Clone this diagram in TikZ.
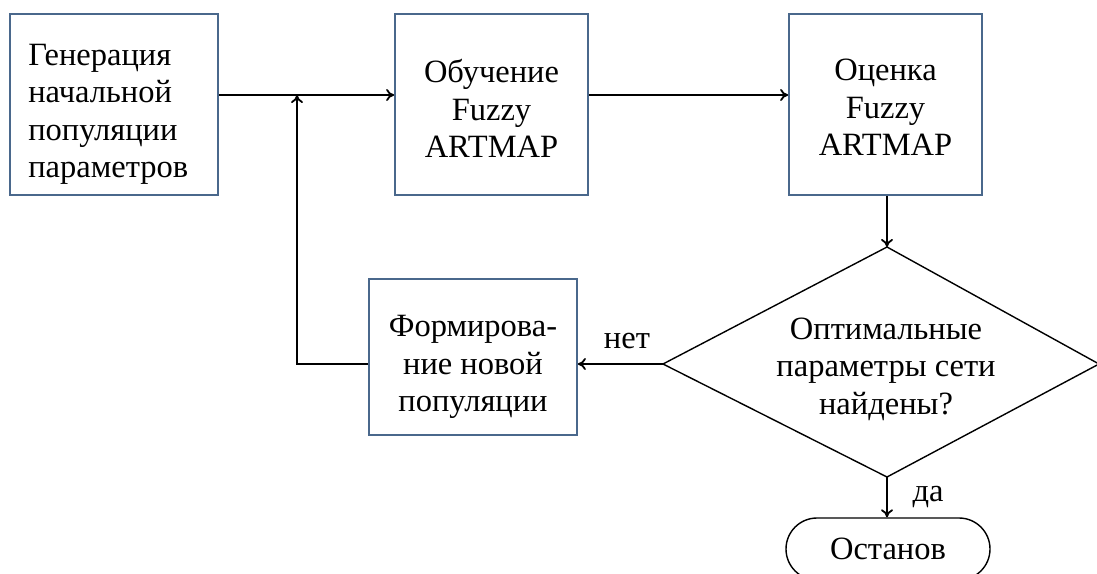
\documentclass[tikz,border=0pt]{standalone}
\usepackage{fontspec}
\setmainfont{Liberation Serif}
\usetikzlibrary{arrows.meta}
\definecolor{boxblue}{RGB}{74,104,140}
\begin{document}
\begin{tikzpicture}[x=1pt,y=-1pt,
  every node/.style={font=\fontsize{32.5}{37.5}\selectfont},
  block/.style={draw=boxblue,line width=1.8pt,inner sep=0pt,minimum height=181pt},
  txt/.style={inner sep=0pt,align=center},
  conn/.style={line width=1.8pt,-{To[length=8pt,width=12pt]}},
  shapeline/.style={line width=1.4pt,line join=miter},
  lbl/.style={inner sep=0pt}]
\useasboundingbox (0,0) rectangle (1097,573);
\clip (0,0) rectangle (1097,573);
% blocks
\node[block, minimum width=208pt] (gen) at (114,104.5) {};
\node[txt, align=left, anchor=west] (gent) at ([xshift=19pt,yshift=-10pt]gen.west) {Генерация\\начальной\\популяции\\параметров};
\node[block, minimum width=193pt] (train) at (491.5,104.5) {};
\node[txt] (traint) at ([yshift=-4pt]train.center) {Обучение\\Fuzzy\\ARTMAP};
\node[block, minimum width=193pt] (eval) at (885.5,104.5) {};
\node[txt] (evalt) at ([yshift=-3pt]eval.center) {Оценка\\Fuzzy\\ARTMAP};
\node[block, minimum width=208pt, minimum height=156pt] (form) at (473,357) {};
\node[txt] (formt) at ([yshift=-10pt]form.center) {Формирова-\\ние новой\\популяции};
% decision diamond
\coordinate (dt) at (887,247);
\coordinate (dr) at (1099,364);
\coordinate (db) at (887,477);
\coordinate (dl) at (663,364);
\draw[shapeline] (dt) -- (dr) -- (db) -- (dl) -- cycle;
\node[txt] (dec) at (886,369) {Оптимальные\\параметры сети\\найдены?};
% terminator
\node[draw, shapeline, rounded corners=31pt, minimum width=204pt, minimum height=62pt] (stop) at (888,549) {Останов};
% connectors
\coordinate (j) at (297,95);
\draw[conn] (gen.east |- j) -- (train.west |- j);
\draw[conn] (train.east |- j) -- (eval.west |- j);
\draw[conn] (eval.south -| dt) -- (dt);
\draw[conn] (dl) -- (form.east |- dl);
\draw[conn] (form.west |- dl) -- (j |- dl) -- (j);
\draw[conn] (db) -- (stop.north -| db);
\node[lbl] (no) at (627,341) {нет};
\node[lbl] (yes) at (928,497) {да};
\end{tikzpicture}
\end{document}
